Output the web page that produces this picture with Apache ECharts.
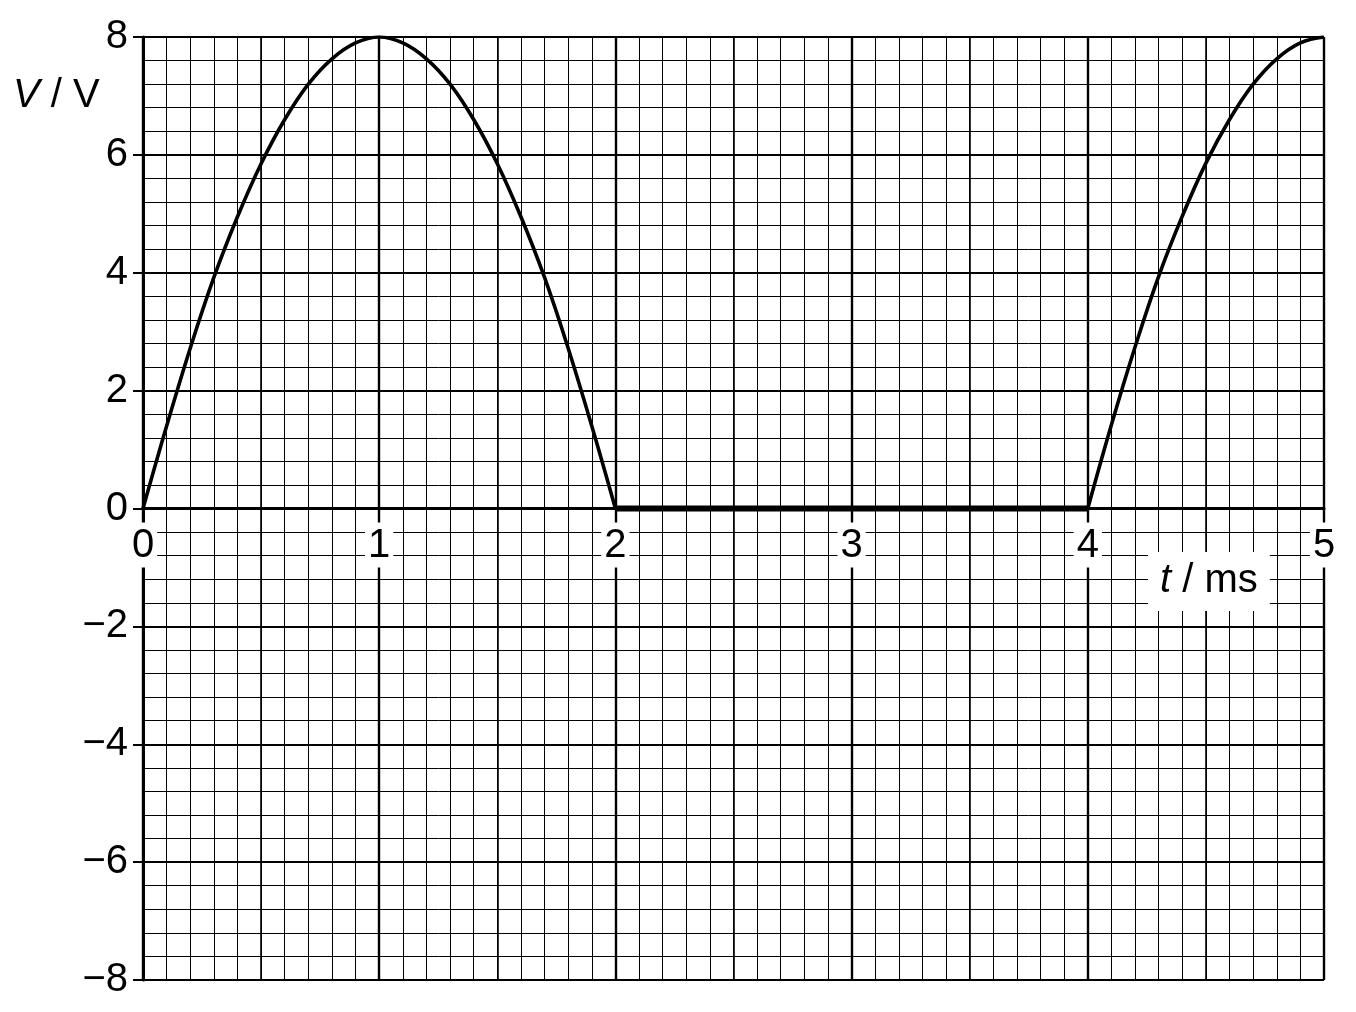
<!DOCTYPE html>
<html>
<head>
<meta charset="utf-8">
<title>V against t</title>
<script src="https://cdn.jsdelivr.net/npm/echarts@6/dist/echarts.min.js"></script>
<style>
  html, body { margin: 0; padding: 0; background: #fff; }
  #main { width: 1356px; height: 1012px; }
</style>
</head>
<body>
<div id="main"></div>
<script>
// values (t in ms, V in volts)
var tFirst = [0, 0.1, 0.2, 0.3, 0.4, 0.5, 0.6, 0.7, 0.8, 0.9, 1.0,
  1.1, 1.2, 1.3, 1.4, 1.5, 1.6, 1.7, 1.8, 1.9, 2.0];
var vFirst = [0, 1.4, 2.72, 3.92, 4.95, 5.85, 6.6, 7.2, 7.63, 7.9, 8,
  7.9, 7.63, 7.2, 6.6, 5.85, 4.95, 3.92, 2.72, 1.4, 0];
var tFlat = [2, 4];
var vFlat = [0, 0];
var tSecond = [4.0, 4.1, 4.2, 4.3, 4.4, 4.5, 4.6, 4.7, 4.8, 4.9, 5.0];
var vSecond = [0, 1.42, 2.74, 3.94, 4.96, 5.86, 6.6, 7.2, 7.63, 7.9, 8];

var xTicks = [0, 1, 2, 3, 4, 5];
var yTicks = [-8, -6, -4, -2, 0, 2, 4, 6, 8];

var FONT = "Liberation Sans";
var FS = 40;
var GRID_TOP = 37;
var GRID_BOTTOM = 32;
var GRID_H = 1012 - GRID_TOP - GRID_BOTTOM;

function pairs(xs, ys) {
  return xs.map(function (x, i) { return [x, ys[i]]; });
}

// move the t axis from the bottom edge up to V = 0
var zeroShift = -GRID_H * (0 - yTicks[0]) / (yTicks[yTicks.length - 1] - yTicks[0]);

var myChart = echarts.init(document.getElementById("main"));
myChart.setOption({
  animation: false,
  backgroundColor: "#fff",
  grid: {
    left: 143,
    right: 32,
    top: GRID_TOP,
    bottom: GRID_BOTTOM,
    outerBoundsMode: "none"
  },
  xAxis: [
    {
      type: "value",
      min: xTicks[0],
      max: xTicks[xTicks.length - 1],
      interval: 1,
      position: "bottom",
      offset: zeroShift,
      z: 2,
      axisLine: { show: true, onZero: false, lineStyle: { color: "#000", width: 3 } },
      axisTick: { show: false },
      axisLabel: {
        show: true,
        margin: 14,
        fontFamily: FONT,
        fontSize: FS,
        color: "#000",
        backgroundColor: "#fff",
        padding: [2, 3, 1, 3],
        lineHeight: 42
      },
      splitLine: { show: true, lineStyle: { color: "#000", width: 2.4 } },
      minorTick: { show: false, splitNumber: 10 },
      minorSplitLine: { show: true, lineStyle: { color: "#000", width: 1 } }
    },
    {
      // half-millisecond lines
      type: "value",
      min: 0,
      max: 5,
      interval: 0.5,
      z: 1,
      axisLine: { show: false, onZero: false },
      axisTick: { show: false },
      axisLabel: { show: false },
      splitLine: { show: true, lineStyle: { color: "#000", width: 1.6 } }
    }
  ],
  yAxis: {
    type: "value",
    min: yTicks[0],
    max: yTicks[yTicks.length - 1],
    interval: 2,
    z: 0,
    axisLine: { show: true, onZero: false, lineStyle: { color: "#000", width: 3 } },
    axisTick: { show: true, inside: false, length: 10, lineStyle: { color: "#000", width: 2 } },
    axisLabel: {
      margin: 15,
      fontFamily: FONT,
      fontSize: FS,
      color: "#000",
      formatter: function (v) { return String(v).replace("-", "\u2212"); }
    },
    splitLine: { show: true, lineStyle: { color: "#000", width: 2.2 } },
    minorTick: { show: false, splitNumber: 5 },
    minorSplitLine: { show: true, lineStyle: { color: "#000", width: 1 } }
  },
  graphic: [
    {
      type: "text",
      left: 13,
      top: 76,
      z: 100,
      style: {
        text: "{i|V}{n| / V}",
        rich: {
          i: { fontFamily: FONT, fontSize: FS, fontStyle: "italic", fill: "#000" },
          n: { fontFamily: FONT, fontSize: FS, fill: "#000" }
        }
      }
    },
    {
      type: "text",
      left: 1148,
      top: 552,
      z: 100,
      style: {
        text: "{i|t}{n| / ms}",
        backgroundColor: "#fff",
        padding: [9, 12, 10, 12],
        rich: {
          i: { fontFamily: FONT, fontSize: FS, fontStyle: "italic", fill: "#000" },
          n: { fontFamily: FONT, fontSize: FS, fill: "#000" }
        }
      }
    }
  ],
  series: [
    {
      name: "rise",
      type: "line",
      z: 10,
      smooth: 0.4,
      showSymbol: false,
      data: pairs(tFirst, vFirst),
      lineStyle: { color: "#000", width: 3.6 }
    },
    {
      name: "flat",
      type: "line",
      z: 10,
      showSymbol: false,
      data: pairs(tFlat, vFlat),
      lineStyle: { color: "#000", width: 6 }
    },
    {
      name: "rise2",
      type: "line",
      z: 10,
      smooth: 0.4,
      showSymbol: false,
      data: pairs(tSecond, vSecond),
      lineStyle: { color: "#000", width: 3.6 }
    }
  ]
});
</script>
</body>
</html>
